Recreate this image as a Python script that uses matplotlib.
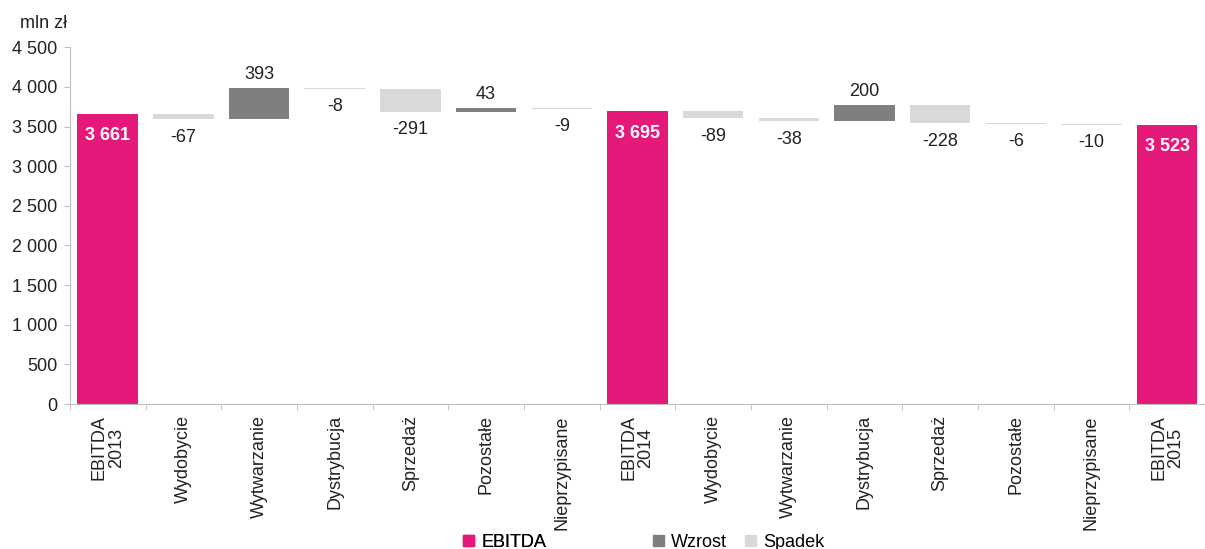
import numpy as np
import matplotlib.pyplot as plt
from matplotlib.patches import Patch

# ============================================================================
# DATA
# ============================================================================
categories = ["EBITDA\n2013", "Wydobycie", "Wytwarzanie", "Dystrybucja", "Sprzedaż",
              "Pozostałe", "Nieprzypisane", "EBITDA\n2014", "Wydobycie", "Wytwarzanie",
              "Dystrybucja", "Sprzedaż", "Pozostałe", "Nieprzypisane", "EBITDA\n2015"]
# None = total bar (EBITDA), otherwise change
totals = {0: 3661, 7: 3695, 14: 3523}
changes = [None, -67, 393, -8, -291, 43, -9, None, -89, -38, 200, -228, -6, -10, None]

PINK = "#E4197A"
DARK = "#7F7F7F"
LIGHT = "#D9D9D9"
AXIS = "#BFBFBF"
TXT = "#222222"
FS = 13


def fmt(v):
    return f"{v:,}".replace(",", " ")


# ============================================================================
# PLOT
# ============================================================================
plt.rcParams["font.family"] = ["Liberation Sans", "DejaVu Sans"]

fig = plt.figure(figsize=(12.05, 5.49), dpi=100)
ax = fig.add_axes([0.058, 0.264, 0.942, 0.650])

x = np.arange(len(categories))
level = 0
for i, ch in enumerate(changes):
    if ch is None:
        val = totals[i]
        ax.bar(i, val, width=0.8, color=PINK, zorder=2)
        ax.annotate(fmt(val), (i, val), xytext=(0, -16), textcoords="offset points",
                    ha="center", va="center", color="white", fontsize=FS, fontweight="bold")
        level = val
    else:
        start = level
        end = level + ch
        color = DARK if ch > 0 else LIGHT
        ax.bar(i, end - start, bottom=start, width=0.8, color=color, zorder=2)
        if ch > 0:
            ax.annotate(fmt(ch), (i, end), xytext=(0, 10), textcoords="offset points",
                        ha="center", va="center", fontsize=FS, color=TXT)
        else:
            ax.annotate(fmt(ch), (i, end), xytext=(0, -13), textcoords="offset points",
                        ha="center", va="center", fontsize=FS, color=TXT)
        level = end

ax.set_xlim(-0.5, len(categories) - 0.5)
ax.set_ylim(0, 4500)
ax.set_yticks(np.arange(0, 4501, 500))
ax.set_yticklabels([fmt(v) for v in range(0, 4501, 500)], fontsize=FS, color=TXT)

ax.set_xticks(x)
ax.set_xticklabels(categories, rotation=90, fontsize=FS, color=TXT, linespacing=1.0)
ax.tick_params(axis="x", length=0, pad=8)
ax.set_xticks(np.arange(-0.5, len(categories), 1.0), minor=True)
ax.tick_params(axis="x", which="minor", length=4, color=AXIS)
ax.tick_params(axis="y", length=4, color=AXIS, pad=5)

for s in ["top", "right"]:
    ax.spines[s].set_visible(False)
ax.spines["left"].set_color(AXIS)
ax.spines["bottom"].set_color(AXIS)

fig.text(0.017, 0.958, "mln zł", fontsize=FS, color=TXT, va="center")

leg1 = fig.legend(handles=[Patch(color=PINK, label="EBITDA")], loc="center",
                  bbox_to_anchor=(0.419, 0.012), frameon=False, fontsize=FS,
                  handlelength=0.6, handleheight=0.6, handletextpad=0.4)
fig.legend(handles=[Patch(color=DARK, label="Wzrost"), Patch(color=LIGHT, label="Spadek")],
           loc="center", bbox_to_anchor=(0.613, 0.012), ncol=2, frameon=False, fontsize=FS,
           handlelength=0.6, handleheight=0.6, handletextpad=0.4, columnspacing=1.0)
fig.add_artist(leg1)

fig.savefig("out.png", dpi=100)
